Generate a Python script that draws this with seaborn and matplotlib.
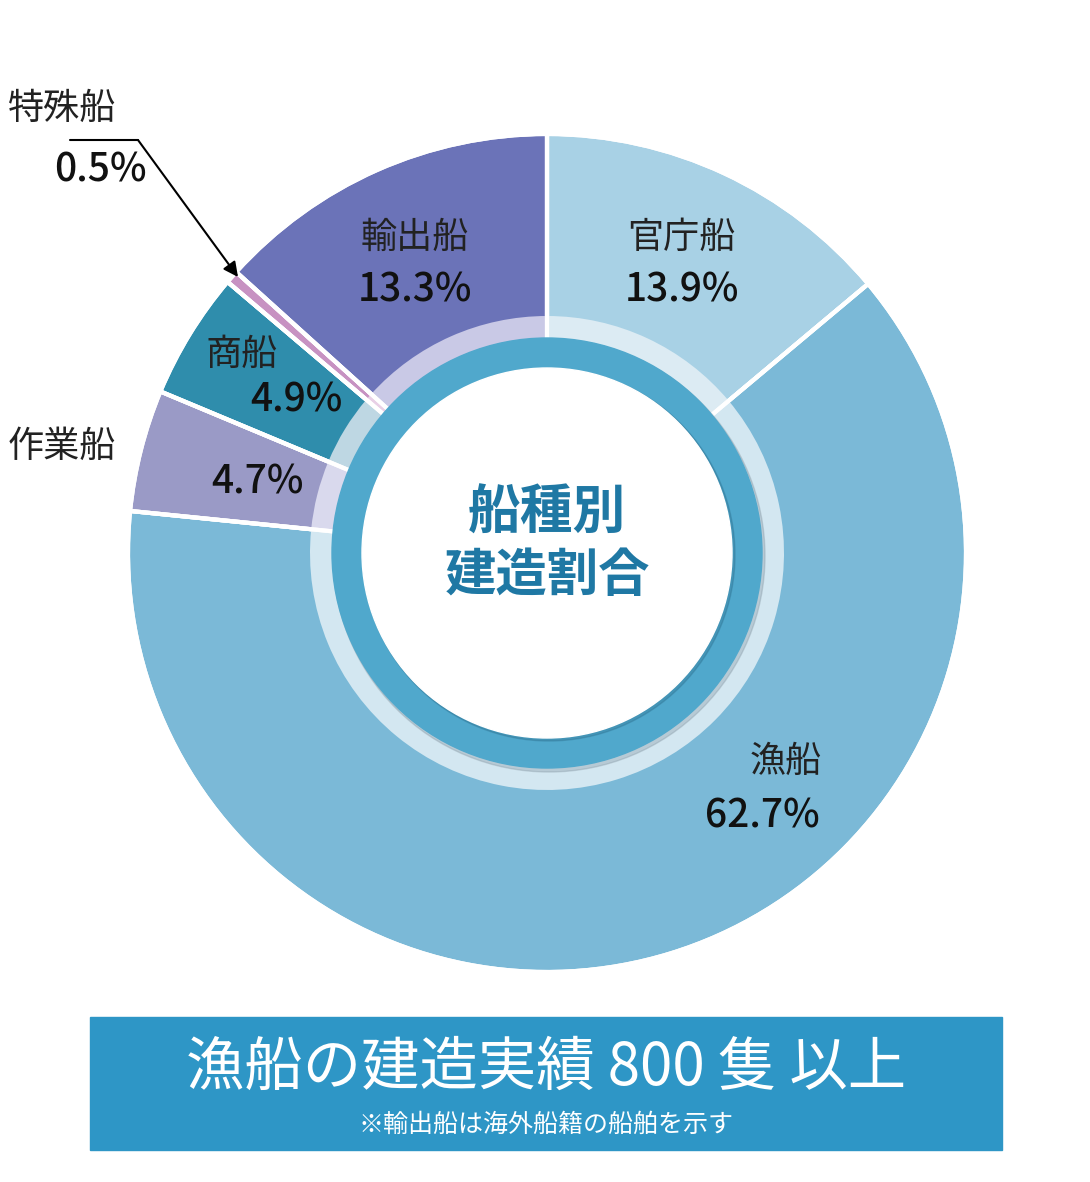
import matplotlib
matplotlib.use('Agg')
import matplotlib.pyplot as plt
from matplotlib.patches import Rectangle, Circle
import seaborn as sns

# データ
labels = ['官庁船', '漁船', '作業船', '商船', '特殊船', '輸出船']
shares = [13.9, 62.7, 4.7, 4.9, 0.5, 13.3]
colors = ['#a8d1e5', '#7bb9d7', '#9a9ac6', '#2f8dac', '#c792c2', '#6b73b8']
light_colors = ['#dcebf3', '#d3e7f1', '#d9d9ed', '#bed7e3', '#e8d0e6', '#c9c9e6']
center_title = ['船種別', '建造割合']
banner_text = '漁船の建造実績 800 隻 以上'
note_text = '※輸出船は海外船籍の船舶を示す'

sns.set_theme(style='white')
plt.rcParams['font.family'] = ['Noto Sans CJK JP', 'DejaVu Sans']

W, H = 1090, 1182
fig = plt.figure(figsize=(W / 100, H / 100), dpi=100)
ax = fig.add_axes([0, 0, 1, 1])

def Y(y):
    return H - y

cx, cy = 547, Y(553)
R = 419

# 外側のドーナツ
ax.pie(shares, colors=colors, startangle=90, counterclock=False,
       center=(cx, cy), radius=R, frame=True,
       wedgeprops=dict(edgecolor='white', linewidth=3))
# 内側の淡いリング（外周の白線なし）
ax.pie(shares, colors=light_colors, startangle=90, counterclock=False,
       center=(cx, cy), radius=237, frame=True,
       wedgeprops=dict(edgecolor='none', linewidth=0))
# 区切りの白線だけを重ねる
ax.pie(shares, startangle=90, counterclock=False,
       center=(cx, cy), radius=R, frame=True,
       wedgeprops=dict(facecolor='none', edgecolor='white', linewidth=3))
ax.set_xlim(0, W)
ax.set_ylim(0, H)
ax.set_aspect('equal')
ax.axis('off')

# 中央の青いリングと白い円
ax.add_patch(Circle((cx + 2, cy - 3), 216, color='#8496a2', alpha=0.35, zorder=5))
ax.add_patch(Circle((cx, cy), 215, color='#50a8cc', zorder=6))
ax.add_patch(Circle((cx + 2, cy - 2), 186, color='#2c6f8e', alpha=0.35, zorder=6))
ax.add_patch(Circle((cx, cy), 185, color='white', zorder=7))

ax.text(cx, Y(513), center_title[0], ha='center', va='center', fontsize=38,
        fontweight='bold', color='#1f78a4', zorder=8)
ax.text(cx, Y(575), center_title[1], ha='center', va='center', fontsize=37,
        fontweight='bold', color='#1f78a4', zorder=8)

# ラベル
lab_fs = 26
pct_fs = 28
label_pos = {
    '官庁船': ((681, 238), (682, 290)),
    '漁船': ((786, 762), (762, 817)),
    '作業船': ((62, 447), (257, 483)),
    '商船': ((242, 355), (296, 400)),
    '特殊船': ((62, 109), (100, 170)),
    '輸出船': ((415, 238), (415, 290)),
}
for name, val in zip(labels, shares):
    (lx, ly), (px, py) = label_pos[name]
    ax.text(lx, Y(ly), name, ha='center', va='center', fontsize=lab_fs,
            color='#222222', zorder=9)
    ax.text(px, Y(py), f'{val}%', ha='center', va='center', fontsize=pct_fs,
            color='#111111', fontweight='medium', zorder=9)

# 特殊船の引き出し線
ax.plot([70, 138], [Y(140), Y(140)], color='black', lw=1.5, zorder=9)
ax.annotate('', xy=(238, Y(277)), xytext=(138, Y(140)),
            arrowprops=dict(arrowstyle='-|>', color='black', lw=1.5,
                            mutation_scale=22, shrinkA=0, shrinkB=0),
            zorder=9)

# 下部の帯
ax.add_patch(Rectangle((90, Y(1150)), 912, 133, color='#2e96c6', zorder=3))
ax.text(546, Y(1068), banner_text, ha='center', va='center', fontsize=42,
        color='white', zorder=4)
ax.text(546, Y(1125), note_text, ha='center', va='center', fontsize=18,
        color='white', zorder=4)

fig.savefig('out.png', dpi=100)
